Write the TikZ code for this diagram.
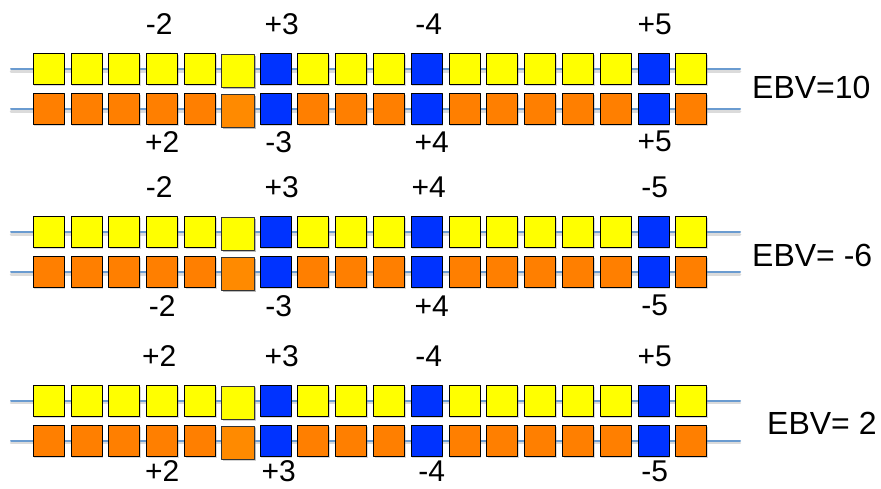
\documentclass[tikz,border=0pt]{standalone}
\usepackage{fontspec}
\setmainfont{Liberation Sans}
\usetikzlibrary{shadows}
\definecolor{chrom}{HTML}{6A9BD0}
\definecolor{snpblue}{HTML}{0033FF}
\definecolor{ylw}{HTML}{FFFF00}
\definecolor{org}{HTML}{FF7F00}
\definecolor{orgb}{HTML}{FF8A00}
\tikzset{
  locus/.style={draw=black, line width=0.9pt, minimum size=31pt, inner sep=0pt, outer sep=0pt,
    drop shadow={opacity=0.3, shadow xshift=1pt, shadow yshift=-1pt}},
  locusb/.style={locus, minimum size=33pt, draw=black!80,
    drop shadow={opacity=0.35, shadow xshift=1.2pt, shadow yshift=-1.5pt}},
  chromline/.style={draw=chrom, line width=2pt},
  chromshade/.style={draw=black!14, line width=2.5pt},
  lbl/.style={font=\fontsize{30}{34}\selectfont, inner sep=0pt},
  ebv/.style={font=\fontsize{32}{36}\selectfont, inner sep=0pt, anchor=west}
}
\begin{document}
\begin{tikzpicture}[x=1pt, y=-1pt, line join=round, line cap=round]
  \def\pitch{37.8} \def\xo{48.8} % first locus, spacing
  \useasboundingbox (0,0) rectangle (881,488);
  \foreach \g/\yy/\ta/\tb/\tc/\td/\ba/\bb/\bc/\bd/\bo/\ev/\ex/\ey in {
      1/69.3/-2/+3/-4/+5/+2/-3/+4/+5/32.4/{EBV=10}/752/87,
      2/232.3/-2/+3/+4/-5/-2/-3/+4/-5/33.5/{EBV= -6}/752/255,
      3/401/+2/+3/-4/+5/+2/+3/-4/-5/30/{EBV= 2}/767/423}{
    \pgfmathsetmacro\yb{\yy+40}
    % chromosomes
    \coordinate (s\g) at (11,\yy);  \coordinate (e\g) at (740,\yy);
    \coordinate (p\g) at (11,\yb);  \coordinate (q\g) at (740,\yb);
    \draw[chromshade] ([yshift=-2pt]s\g) -- ([yshift=-2pt]e\g);
    \draw[chromshade] ([yshift=-2pt]p\g) -- ([yshift=-2pt]q\g);
    \draw[chromline] (s\g) -- (e\g);
    \draw[chromline] (p\g) -- (q\g);
    % loci
    \foreach \i in {1,2,3,4,5,8,9,10,12,13,14,15,16,18} {
      \node[locus, fill=ylw] (y\g-\i) at ({\xo+(\i-1)*\pitch},\yy) {};
      \node[locus, fill=org] (o\g-\i) at ({\xo+(\i-1)*\pitch},\yb) {};
    }
    \foreach \i in {7,11,17} {
      \node[locus, fill=snpblue] (y\g-\i) at ({\xo+(\i-1)*\pitch},\yy) {};
      \node[locus, fill=snpblue] (o\g-\i) at ({\xo+(\i-1)*\pitch},\yb) {};
    }
    \node[locusb, fill=ylw] (y\g-6) at ({\xo+5*\pitch+0.5},\yy+1.7) {};
    \node[locusb, fill=orgb] (o\g-6) at ({\xo+5*\pitch+0.5},\yb+1.7) {};
    % effects
    \node[lbl] (t\g-1) at ({\xo+3*\pitch-3},\yy-45) {\ta};
    \node[lbl] (t\g-2) at ({\xo+6*\pitch+6},\yy-45) {\tb};
    \node[lbl] (t\g-3) at ({\xo+10*\pitch+2},\yy-45) {\tc};
    \node[lbl] (t\g-4) at ({\xo+16*\pitch+1},\yy-45) {\td};
    \node[lbl] (b\g-1) at ({\xo+3*\pitch},\yb+\bo) {\ba};
    \node[lbl] (b\g-2) at ({\xo+6*\pitch+3},\yb+\bo) {\bb};
    \node[lbl] (b\g-3) at ({\xo+10*\pitch+5},\yb+\bo) {\bc};
    \node[lbl] (b\g-4) at ({\xo+16*\pitch+1},\yb+\bo) {\bd};
    \node[ebv] (ebv\g) at (\ex,\ey) {\ev};
  }
\end{tikzpicture}
\end{document}
